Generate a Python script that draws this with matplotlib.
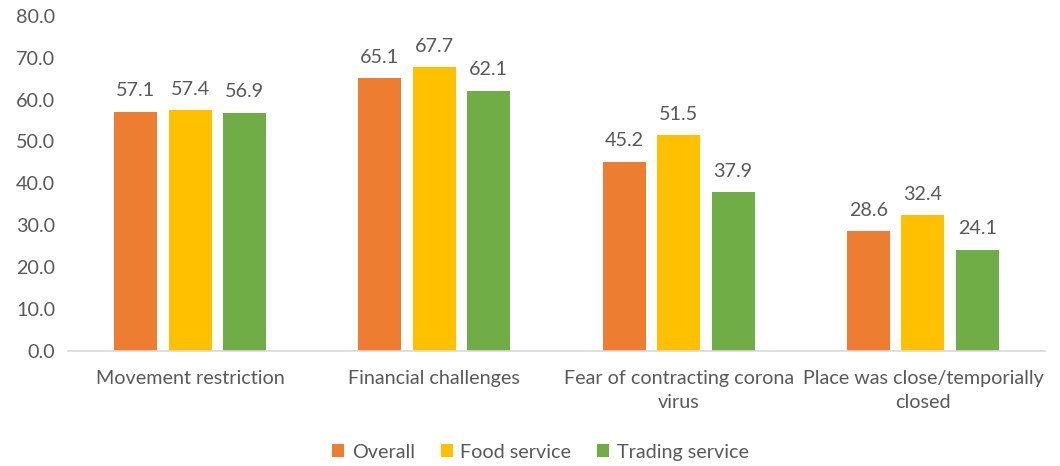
import matplotlib
matplotlib.use("Agg")
import matplotlib.pyplot as plt
import numpy as np

categories = ["Movement restriction", "Financial challenges",
              "Fear of contracting corona\nvirus", "Place was close/temporially\nclosed"]
series_names = ["Overall", "Food service", "Trading service"]
overall = [57.1, 65.1, 45.2, 28.6]
food = [57.4, 67.7, 51.5, 32.4]
trading = [56.9, 62.1, 37.9, 24.1]
colors = ["#ED7D31", "#FFC000", "#70AD47"]

plt.rcParams['font.family'] = ['Lato', 'DejaVu Sans']
txt = "#595959"
fs = 14.2

fig = plt.figure(figsize=(10.6, 4.66), dpi=100)
ax = fig.add_axes([0.064, 0.247, 0.922, 0.719])

x = np.arange(len(categories))
step = 0.223
width = 0.176
for i, (vals, name, c) in enumerate(zip([overall, food, trading], series_names, colors)):
    pos = x + (i - 1) * step
    bars = ax.bar(pos, vals, width=width, color=c, label=name)
    for p, v in zip(pos, vals):
        ax.text(p, v + 3.0, f"{v:.1f}", ha="center", va="bottom", fontsize=fs, color=txt)

ax.set_xlim(-0.5, 3.5)
ax.set_ylim(0, 80)
ax.set_yticks(np.arange(0, 81, 10))
ax.set_yticklabels([f"{t:.1f}" for t in np.arange(0, 81, 10)])
ax.set_xticks(x)
ax.set_xticklabels(categories, linespacing=1.45)
ax.tick_params(axis="both", length=0, labelsize=fs, colors=txt)
ax.tick_params(axis="y", pad=9)
ax.tick_params(axis="x", pad=14)
for s in ["top", "right", "left"]:
    ax.spines[s].set_visible(False)
ax.spines["bottom"].set_color("#D9D9D9")
ax.spines["bottom"].set_linewidth(1.2)

leg = fig.legend(loc="center", bbox_to_anchor=(0.51, 0.03), ncol=3, frameon=False,
                 fontsize=fs, handlelength=0.6, handleheight=0.6, columnspacing=1.3,
                 handletextpad=0.4)
for t in leg.get_texts():
    t.set_color(txt)

fig.savefig("out.png", dpi=100)
